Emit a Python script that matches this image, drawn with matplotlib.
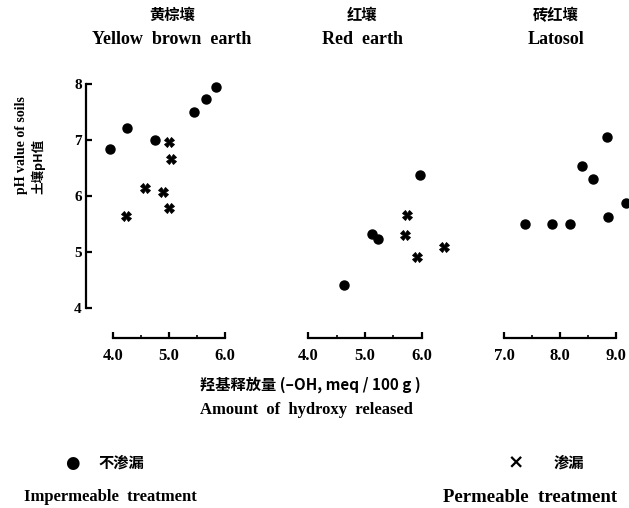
import matplotlib
matplotlib.use("Agg")
import matplotlib.pyplot as plt

# 黄棕壤 Yellow brown earth
yb_imp_x = [3.95, 4.26, 4.76, 5.45, 5.66, 5.84]
yb_imp_y = [6.84, 7.22, 7.00, 7.49, 7.73, 7.95]
yb_perm_x = [5.00, 5.04, 4.58, 4.90, 5.00, 4.24]
yb_perm_y = [6.96, 6.66, 6.15, 6.08, 5.79, 5.64]

# 红壤 Red earth
red_imp_x = [5.97, 5.12, 5.23, 4.64]
red_imp_y = [6.37, 5.33, 5.24, 4.41]
red_perm_x = [5.74, 5.71, 6.39, 5.91]
red_perm_y = [5.66, 5.31, 5.09, 4.91]

# 砖红壤 Latosol
lat_imp_x = [8.83, 8.40, 8.58, 9.18, 8.85, 7.38, 7.86, 8.18]
lat_imp_y = [7.06, 6.54, 6.31, 5.87, 5.62, 5.51, 5.51, 5.50]

panel_titles_cn = ["黄棕壤", "红壤", "砖红壤"]
panel_titles_en = ["Yellow  brown  earth", "Red  earth", "Latosol"]
x_ticks = [[4.0, 5.0, 6.0], [4.0, 5.0, 6.0], [7.0, 8.0, 9.0]]
y_ticks = [4, 5, 6, 7, 8]

SERIF = "Liberation Serif"
CJK = ["Noto Sans CJK SC", "DejaVu Sans"]

W, H = 629, 508
fig = plt.figure(figsize=(W / 100, H / 100), dpi=100)

def px_axes(left, right, bottom, top):
    return fig.add_axes([left / W, (H - bottom) / H, (right - left) / W, (bottom - top) / H])

ylim = (3.47, 8.3)
ax1 = px_axes(86, 236, 338, 67)
ax1.set_xlim(3.52, 6.2)
ax2 = px_axes(291, 456, 338, 67)
ax2.set_xlim(3.7, 6.6)
ax3 = px_axes(493, 630, 338, 67)
ax3.set_xlim(6.8, 9.25)
axes = [ax1, ax2, ax3]

ax1.plot(yb_imp_x, yb_imp_y, "o", color="black", ms=6.5, clip_on=False)
ax1.plot(yb_perm_x, yb_perm_y, "X", color="black", ms=6.5, mew=0.6, clip_on=False)
ax2.plot(red_imp_x, red_imp_y, "o", color="black", ms=6.5, clip_on=False)
ax2.plot(red_perm_x, red_perm_y, "X", color="black", ms=6.5, mew=0.6, clip_on=False)
ax3.plot(lat_imp_x, lat_imp_y, "o", color="black", ms=6.5, clip_on=False)

for i, ax in enumerate(axes):
    ax.set_ylim(*ylim)
    ax.patch.set_alpha(0)
    for s in ["top", "right", "left"]:
        ax.spines[s].set_visible(False)
    ax.spines["bottom"].set_linewidth(1.6)
    ax.spines["bottom"].set_bounds(x_ticks[i][0], x_ticks[i][-1])
    ax.set_xticks(x_ticks[i])
    ax.set_xticklabels(["%.1f" % t for t in x_ticks[i]], fontfamily=SERIF,
                       fontweight="bold", fontsize=12)
    ax.set_xticks([x_ticks[i][0] + 0.5, x_ticks[i][1] + 0.5], minor=True)
    ax.tick_params(axis="x", which="major", direction="in", length=4, width=1.6, pad=7)
    ax.tick_params(axis="x", which="minor", direction="in", length=2, width=1.2)
    ax.set_yticks([])

# y axis only on the first panel
ax1.spines["left"].set_visible(True)
ax1.spines["left"].set_linewidth(1.6)
ax1.spines["left"].set_bounds(4, 8)
ax1.set_yticks(y_ticks)
ax1.set_yticklabels([str(t) for t in y_ticks], fontfamily=SERIF, fontweight="bold", fontsize=11)
ax1.tick_params(axis="y", direction="in", length=4, width=1.6, pad=3)

# panel titles
title_x = [172, 362, 556]
for x, cn, en in zip(title_x, panel_titles_cn, panel_titles_en):
    fig.text(x / W, 1 - 15 / H, cn, ha="center", va="center", family=CJK,
             fontweight="bold", fontsize=11)
    fig.text(x / W, 1 - 39 / H, en, ha="center", va="center", family=SERIF,
             fontweight="bold", fontsize=13)

# y label
fig.text(22 / W, 1 - 194 / H, "pH value of soils", rotation=90, ha="center", va="bottom",
         family=SERIF, fontweight="bold", fontsize=10)
fig.text(38 / W, 1 - 194 / H, "土壤pH值", rotation=90, ha="center", va="bottom",
         family=CJK, fontweight="bold", fontsize=9)

# x label
fig.text(310 / W, 1 - 385 / H, "羟基释放量 (–OH, meq / 100 g )", ha="center", va="center",
         family=CJK, fontweight="bold", fontsize=11)
fig.text(306 / W, 1 - 410 / H, "Amount  of  hydroxy  released", ha="center", va="center",
         family=SERIF, fontweight="bold", fontsize=12)

# legend
fig.text(72 / W, 1 - 463 / H, "●", ha="center", va="center", family="DejaVu Sans", fontsize=12)
fig.text(121 / W, 1 - 463 / H, "不渗漏", ha="center", va="center", family=CJK,
         fontweight="bold", fontsize=11)
fig.text(110 / W, 1 - 497 / H, "Impermeable  treatment", ha="center", va="center",
         family=SERIF, fontweight="bold", fontsize=12)
fig.text(516 / W, 1 - 463 / H, "×", ha="center", va="center", family="DejaVu Sans",
         fontweight="bold", fontsize=14)
fig.text(569 / W, 1 - 463 / H, "渗漏", ha="center", va="center", family=CJK,
         fontweight="bold", fontsize=11)
fig.text(530 / W, 1 - 497 / H, "Permeable  treatment", ha="center", va="center",
         family=SERIF, fontweight="bold", fontsize=13.5)

fig.savefig("out.png", dpi=100)
